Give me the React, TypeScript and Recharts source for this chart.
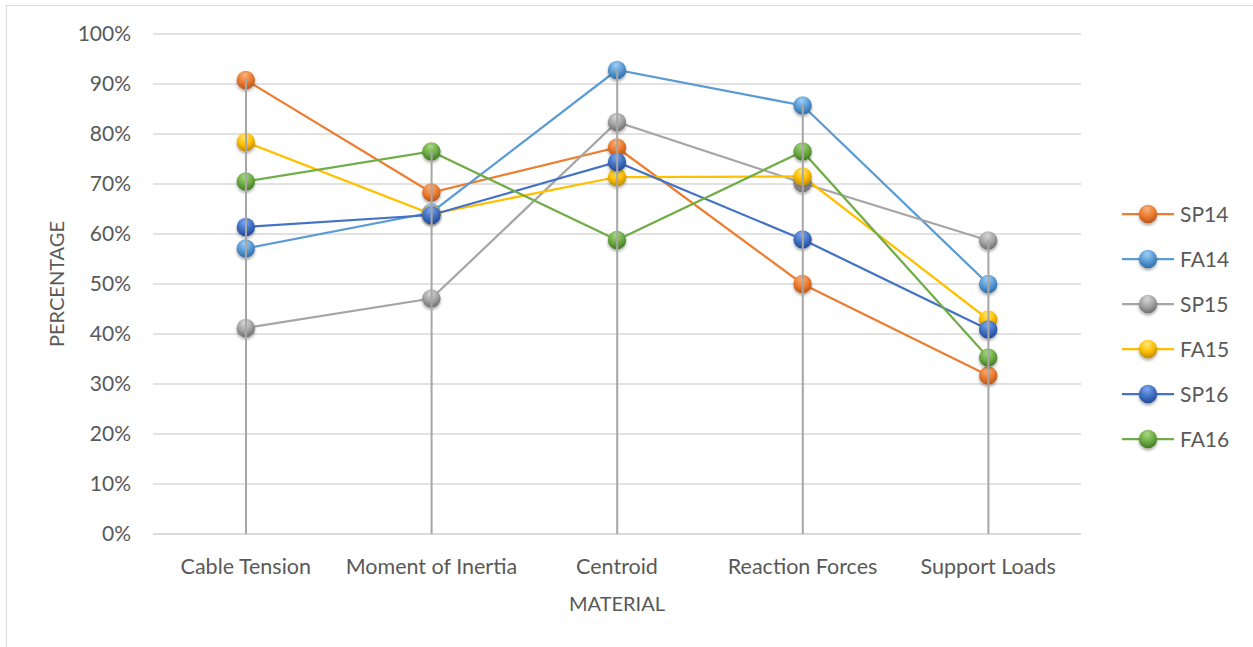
import React from "react";
import {
  ComposedChart,
  Line,
  Bar,
  XAxis,
  YAxis,
  CartesianGrid,
} from "recharts";

const categories = [
  "Cable Tension",
  "Moment of Inertia",
  "Centroid",
  "Reaction Forces",
  "Support Loads",
];

const sp14 = [90.8, 68.3, 77.3, 50.0, 31.7];
const fa14 = [57.1, 64.3, 92.8, 85.7, 50.0];
const sp15 = [41.2, 47.1, 82.4, 70.2, 58.7];
const fa15 = [78.4, 64.0, 71.4, 71.5, 42.9];
const sp16 = [61.4, 63.8, 74.4, 58.9, 40.9];
const fa16 = [70.5, 76.5, 58.8, 76.5, 35.3];

const yTicks = [0, 10, 20, 30, 40, 50, 60, 70, 80, 90, 100];

const series = [
  { key: "SP14", values: sp14, color: "#ED7D31", light: "#F9B27E", dark: "#B8551A" },
  { key: "FA14", values: fa14, color: "#5B9BD5", light: "#9FD0F5", dark: "#2E6DA8" },
  { key: "SP15", values: sp15, color: "#A5A5A5", light: "#D8D8D8", dark: "#6E6E6E" },
  { key: "FA15", values: fa15, color: "#FFC000", light: "#FFE680", dark: "#C08A00" },
  { key: "SP16", values: sp16, color: "#4472C4", light: "#7FA8EE", dark: "#1F4A96" },
  { key: "FA16", values: fa16, color: "#70AD47", light: "#A6D982", dark: "#437A22" },
];

const data = categories.map((name, i) => {
  const row: any = { name };
  series.forEach((s) => (row[s.key] = s.values[i]));
  row.top = Math.max(...series.map((s) => s.values[i]));
  return row;
});

const FONT = "Lato, 'Open Sans', sans-serif";
const TEXT = "#595959";
const GRID = "#d9d9d9";

function Gradient({ id, s }: { id: string; s: any }) {
  return (
    <radialGradient id={id} cx="45%" cy="30%" r="70%" fx="45%" fy="22%">
      <stop offset="0%" stopColor={s.light} />
      <stop offset="55%" stopColor={s.color} />
      <stop offset="100%" stopColor={s.dark} />
    </radialGradient>
  );
}

function Sphere({ cx, cy, id }: { cx: number; cy: number; id: string }) {
  if (cx == null || cy == null) return null;
  return (
    <circle cx={cx} cy={cy} r={9.2} fill={`url(#${id})`} filter="url(#ballShadow)" />
  );
}

// Excel-style drop line: from the highest point down to the category axis
function DropLine(p: any) {
  const x = p.x + p.width / 2;
  return (
    <line x1={x} x2={x} y1={p.y} y2={p.y + p.height} stroke="#a6a6a6" strokeWidth={2} />
  );
}

function LegendBox() {
  return (
    <div style={{ fontFamily: FONT, position: "absolute", left: 1122, top: 191 }}>
      {series.map((s) => (
        <div key={s.key} style={{ display: "flex", alignItems: "center", height: 45 }}>
          <svg width={56} height={24} style={{ overflow: "visible" }}>
            <defs>
              <Gradient id={`lg-${s.key}`} s={s} />
              <filter id={`lsh-${s.key}`} x="-50%" y="-50%" width="200%" height="200%">
                <feDropShadow dx="0" dy="2" stdDeviation="1.6" floodColor="#000" floodOpacity="0.35" />
              </filter>
            </defs>
            <line x1={0} x2={52} y1={12} y2={12} stroke={s.color} strokeWidth={2.25} />
            <circle cx={26} cy={12} r={9.2} fill={`url(#lg-${s.key})`} filter={`url(#lsh-${s.key})`} />
          </svg>
          <span style={{ fontSize: 21, color: TEXT, marginLeft: 2 }}>{s.key}</span>
        </div>
      ))}
    </div>
  );
}

export default function App() {
  return (
    <div
      style={{
        position: "absolute",
        left: 0,
        top: 0,
        width: 1253,
        height: 647,
        background: "#fff",
        overflow: "hidden",
      }}
    >
      <div
        style={{
          position: "absolute",
          left: 6,
          top: 5,
          width: 1253,
          height: 700,
          borderLeft: `1.5px solid ${GRID}`,
          borderTop: `1.5px solid ${GRID}`,
        }}
      />
      <ComposedChart
        width={1253}
        height={647}
        data={data}
        margin={{ top: 34, right: 172, bottom: 0, left: 0 }}
        style={{ position: "absolute", left: 0, top: 0 }}
      >
        <defs>
          <filter id="ballShadow" x="-50%" y="-50%" width="200%" height="200%">
            <feDropShadow dx="0" dy="2" stdDeviation="1.6" floodColor="#000" floodOpacity="0.35" />
          </filter>
          {series.map((s) => (
            <Gradient key={s.key} id={`g-${s.key}`} s={s} />
          ))}
        </defs>
        <CartesianGrid vertical={false} stroke={GRID} strokeWidth={1.5} />
        <XAxis
          dataKey="name"
          height={113}
          tickLine={false}
          axisLine={{ stroke: GRID, strokeWidth: 1.5 }}
          tick={{ fill: TEXT, fontSize: 21.5, fontFamily: FONT }}
          tickMargin={19}
          interval={0}
        />
        <YAxis
          width={153}
          domain={[0, 100]}
          ticks={yTicks}
          interval={0}
          tickFormatter={(v) => `${v}%`}
          axisLine={false}
          tickLine={false}
          tickMargin={16}
          tick={{ fill: TEXT, fontSize: 21, fontFamily: FONT }}
        />
        {series.map((s) => (
          <Line
            key={s.key}
            dataKey={s.key}
            stroke={s.color}
            strokeWidth={2.25}
            isAnimationActive={false}
            activeDot={false}
            dot={(p: any) => (
              <Sphere key={`${s.key}-${p.index}`} cx={p.cx} cy={p.cy} id={`g-${s.key}`} />
            )}
          />
        ))}
        <Bar
          dataKey="top"
          barSize={4}
          shape={DropLine}
          legendType="none"
          isAnimationActive={false}
          zIndex={1500}
        />
      </ComposedChart>
      <LegendBox />
      <div
        style={{
          position: "absolute",
          left: 56,
          top: 284,
          transform: "translate(-50%, -50%) rotate(-90deg)",
          fontFamily: FONT,
          fontSize: 20,
          color: TEXT,
          whiteSpace: "nowrap",
        }}
      >
        PERCENTAGE
      </div>
      <div
        style={{
          position: "absolute",
          left: 617,
          top: 603,
          transform: "translate(-50%, -50%)",
          fontFamily: FONT,
          fontSize: 20,
          color: TEXT,
          whiteSpace: "nowrap",
        }}
      >
        MATERIAL
      </div>
    </div>
  );
}
